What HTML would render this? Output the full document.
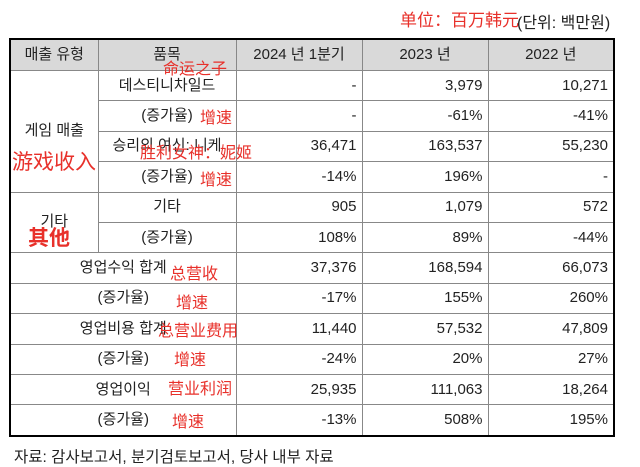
<!DOCTYPE html>
<html><head><meta charset="utf-8"><style>
body{margin:0;width:640px;height:466px;background:#fff;position:relative;overflow:hidden;font-family:"Liberation Sans","Noto Sans CJK KR",sans-serif;}
table{position:absolute;left:9px;top:38px;border-collapse:collapse;table-layout:fixed;border:2px solid #000;font-size:15px;color:#222;}
td,th{border:1px solid #888;height:29.4px;line-height:18px;padding:0 5px;font-weight:normal;white-space:nowrap;overflow:visible;}
th{background:#d9d9d9;height:30px;}
td.c{text-align:center}
td.r{text-align:right}
.ann{position:absolute;color:#e8302a;font-family:"Noto Sans CJK SC",sans-serif;white-space:nowrap;line-height:1;}
</style></head><body>
<div class="ann" style="left:400px;top:10px;font-size:17px;">单位：百万韩元</div>
<div style="position:absolute;left:517px;top:9px;font-size:16px;color:#222;">(단위: 백만원)</div>
<table>
<colgroup><col style="width:88px"><col style="width:138px"><col style="width:126px"><col style="width:126px"><col style="width:126px"></colgroup>
<tr><th>매출 유형</th><th>품목</th><th>2024 년 1분기</th><th>2023 년</th><th>2022 년</th></tr>
<tr><td class="c" rowspan="4">게임 매출</td><td class="c">데스티니차일드</td><td class="r">-</td><td class="r">3,979</td><td class="r">10,271</td></tr>
<tr><td class="c">(증가율)</td><td class="r">-</td><td class="r">-61%</td><td class="r">-41%</td></tr>
<tr><td class="c">승리의 여신: 니케</td><td class="r">36,471</td><td class="r">163,537</td><td class="r">55,230</td></tr>
<tr><td class="c">(증가율)</td><td class="r">-14%</td><td class="r">196%</td><td class="r">-</td></tr>
<tr><td class="c" rowspan="2">기타</td><td class="c">기타</td><td class="r">905</td><td class="r">1,079</td><td class="r">572</td></tr>
<tr><td class="c">(증가율)</td><td class="r">108%</td><td class="r">89%</td><td class="r">-44%</td></tr>
<tr><td class="c" colspan="2">영업수익 합계</td><td class="r">37,376</td><td class="r">168,594</td><td class="r">66,073</td></tr>
<tr><td class="c" colspan="2">(증가율)</td><td class="r">-17%</td><td class="r">155%</td><td class="r">260%</td></tr>
<tr><td class="c" colspan="2">영업비용 합계</td><td class="r">11,440</td><td class="r">57,532</td><td class="r">47,809</td></tr>
<tr><td class="c" colspan="2">(증가율)</td><td class="r">-24%</td><td class="r">20%</td><td class="r">27%</td></tr>
<tr><td class="c" colspan="2">영업이익</td><td class="r">25,935</td><td class="r">111,063</td><td class="r">18,264</td></tr>
<tr><td class="c" colspan="2">(증가율)</td><td class="r">-13%</td><td class="r">508%</td><td class="r">195%</td></tr>
</table>
<div class="ann" style="left:163px;top:59px;font-size:16px;">命运之子</div>
<div class="ann" style="left:200px;top:108px;font-size:16px;">增速</div>
<div class="ann" style="left:12px;top:151px;font-size:21px;">游戏收入</div>
<div class="ann" style="left:140px;top:143px;font-size:16px;">胜利女神：妮姬</div>
<div class="ann" style="left:200px;top:170px;font-size:16px;">增速</div>
<div class="ann" style="left:28px;top:227px;font-size:21px;font-weight:bold;">其他</div>
<div class="ann" style="left:170px;top:264px;font-size:16px;">总营收</div>
<div class="ann" style="left:176px;top:293px;font-size:16px;">增速</div>
<div class="ann" style="left:158px;top:321px;font-size:16px;">总营业费用</div>
<div class="ann" style="left:174px;top:350px;font-size:16px;">增速</div>
<div class="ann" style="left:168px;top:379px;font-size:16px;">营业利润</div>
<div class="ann" style="left:172px;top:412px;font-size:16px;">增速</div>
<div style="position:absolute;left:14px;top:445px;font-size:15.5px;color:#222;">자료: 감사보고서, 분기검토보고서, 당사 내부 자료</div>
</body></html>
